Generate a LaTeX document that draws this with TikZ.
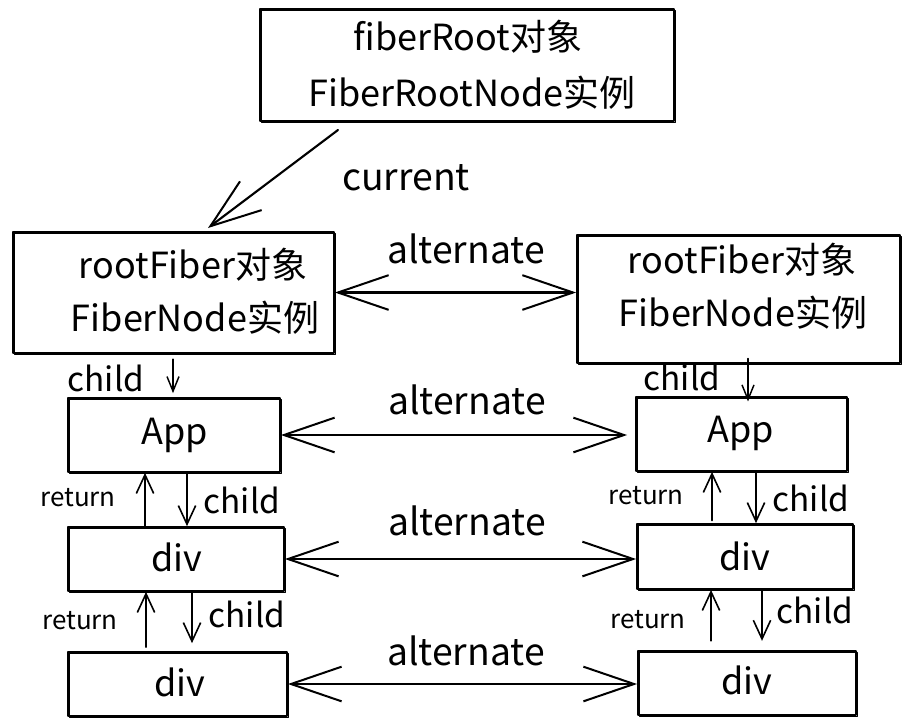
\documentclass[tikz,border=0pt]{standalone}
\usepackage{fontspec}
\setmainfont{Noto Sans CJK SC}
\usetikzlibrary{arrows.meta}
\begin{document}
\begin{tikzpicture}[x=0.75pt,y=-0.75pt,
  box/.style={draw=black, line width=1.3pt, inner sep=0pt, line join=round,
    preaction={draw, line width=0.6pt, transform canvas={shift={(0.9pt,-0.7pt)}}}},
  big/.style={inner sep=0pt, font=\fontsize{27pt}{32pt}\selectfont},
  lbl/.style={inner sep=0pt, font=\fontsize{25pt}{30pt}\selectfont},
  altlbl/.style={inner sep=0pt, font=\fontsize{28pt}{33pt}\selectfont},
  small/.style={inner sep=0pt, font=\fontsize{19.5pt}{23pt}\selectfont},
  alt/.style={line width=1.6pt, line cap=round,
    {Straight Barb[length=38pt,width=26pt,line width=1.5pt]}-{Straight Barb[length=38pt,width=26pt,line width=1.5pt]}},
  cur/.style={line width=1.6pt, line cap=round,
    -{Straight Barb[length=38pt,width=27pt,line width=1.5pt]}},
  ch/.style={line width=1.2pt, line cap=round,
    -{Straight Barb[length=14pt,width=13pt,line width=1.2pt]}},
  chs/.style={line width=1.1pt, line cap=round,
    -{Straight Barb[length=11pt,width=9pt,line width=1.1pt]}}
]
\fill[white] (0,0) rectangle (914,726);
\useasboundingbox (0,0) rectangle (914,726);

% boxes
\node[box, minimum width=310.5pt, minimum height=84pt] (top) at (467,65) {};
\node[box, minimum width=240.75pt, minimum height=90.75pt] (lroot) at (173.5,292.5) {};
\node[box, minimum width=242.25pt, minimum height=96pt] (rroot) at (738.5,299) {};
\node[box, minimum width=159pt, minimum height=55.5pt] (appL) at (174,435) {};
\node[box, minimum width=158.25pt, minimum height=55.5pt] (appR) at (741.5,434) {};
\node[box, minimum width=162pt, minimum height=48pt] (divL1) at (176,559) {};
\node[box, minimum width=162pt, minimum height=48.75pt] (divR1) at (745,556.5) {};
\node[box, minimum width=164.25pt, minimum height=48pt] (divL2) at (177.5,684) {};
\node[box, minimum width=163.5pt, minimum height=48pt] (divR2) at (747,683) {};

% box texts
\node[big] (t1) at (468,37) {fiberRoot对象};
\node[big] (t2) at (472,93) {FiberRootNode实例};
\node[big] (l1) at (193,265) {rootFiber对象};
\node[big] (l2) at (195,318) {FiberNode实例};
\node[big] (r1) at (742,260) {rootFiber对象};
\node[big] (r2) at (743,313) {FiberNode实例};
\node[big] (appLt) at (175,435) {App};
\node[big] (appRt) at (741,433) {App};
\node[big] (divL1t) at (177,557) {div};
\node[big] (divR1t) at (745,556) {div};
\node[big] (divL2t) at (180,682) {div};
\node[big] (divR2t) at (747,680) {div};

% current
\coordinate (curS) at (338,130);
\coordinate (curE) at (208,228);
\draw[cur] (curS) -- (curE);
\node[altlbl] (curlbl) at (406,178) {current};

% alternate arrows
\draw[alt] (lroot.east) -- (lroot.east -| rroot.west);
\node[altlbl] (alt0) at (466,249) {alternate};
\draw[alt, shorten >=6pt] (appL.east) -- (appL.east -| appR.west);
\node[altlbl] (alt1) at (467,400) {alternate};
\draw[alt] (divL1.east) -- (divL1.east -| divR1.west);
\node[altlbl] (alt2) at (467,521) {alternate};
\draw[alt] (divL2.east) -- (divL2.east -| divR2.west);
\node[altlbl] (alt3) at (466,651) {alternate};

% child from root fibers
\draw[chs, shorten <=4pt, shorten >=3pt] (lroot.south -| 173,0) -- (appL.north -| 173,0);
\node[lbl] (chL0) at (106,378) {child};
\draw[chs, shorten <=-4pt, shorten >=-4pt] (rroot.south -| 748,0) -- (appR.north -| 748,0);
\node[lbl] (chR0) at (682,377) {child};

% left column child/return
\draw[ch] (divL1.north -| 145,0) -- (appL.south -| 145,0);
\draw[ch] (appL.south -| 187,0) -- (divL1.north -| 187,0);
\node[small] (retL1) at (78,498) {return};
\node[lbl] (chL1) at (242,500) {child};
\draw[ch, shorten <=3pt] (divL2.north -| 146,0) -- (divL1.south -| 146,0);
\draw[ch, shorten >=6pt] (divL1.south -| 192,0) -- (divL2.north -| 192,0);
\node[small] (retL2) at (80,621) {return};
\node[lbl] (chL2) at (247,614) {child};

% right column child/return
\draw[ch, shorten <=2pt] (divR1.north -| 712,0) -- (appR.south -| 712,0);
\draw[ch] (appR.south -| 756,0) -- (divR1.north -| 756,0);
\node[small] (retR1) at (646,496) {return};
\node[lbl] (chR1) at (811,498) {child};
\draw[ch, shorten <=7pt] (divR2.north -| 711,0) -- (divR1.south -| 711,0);
\draw[ch, shorten >=7pt] (divR1.south -| 762,0) -- (divR2.north -| 762,0);
\node[small] (retR2) at (648,620) {return};
\node[lbl] (chR2) at (815,610) {child};
\end{tikzpicture}
\end{document}
